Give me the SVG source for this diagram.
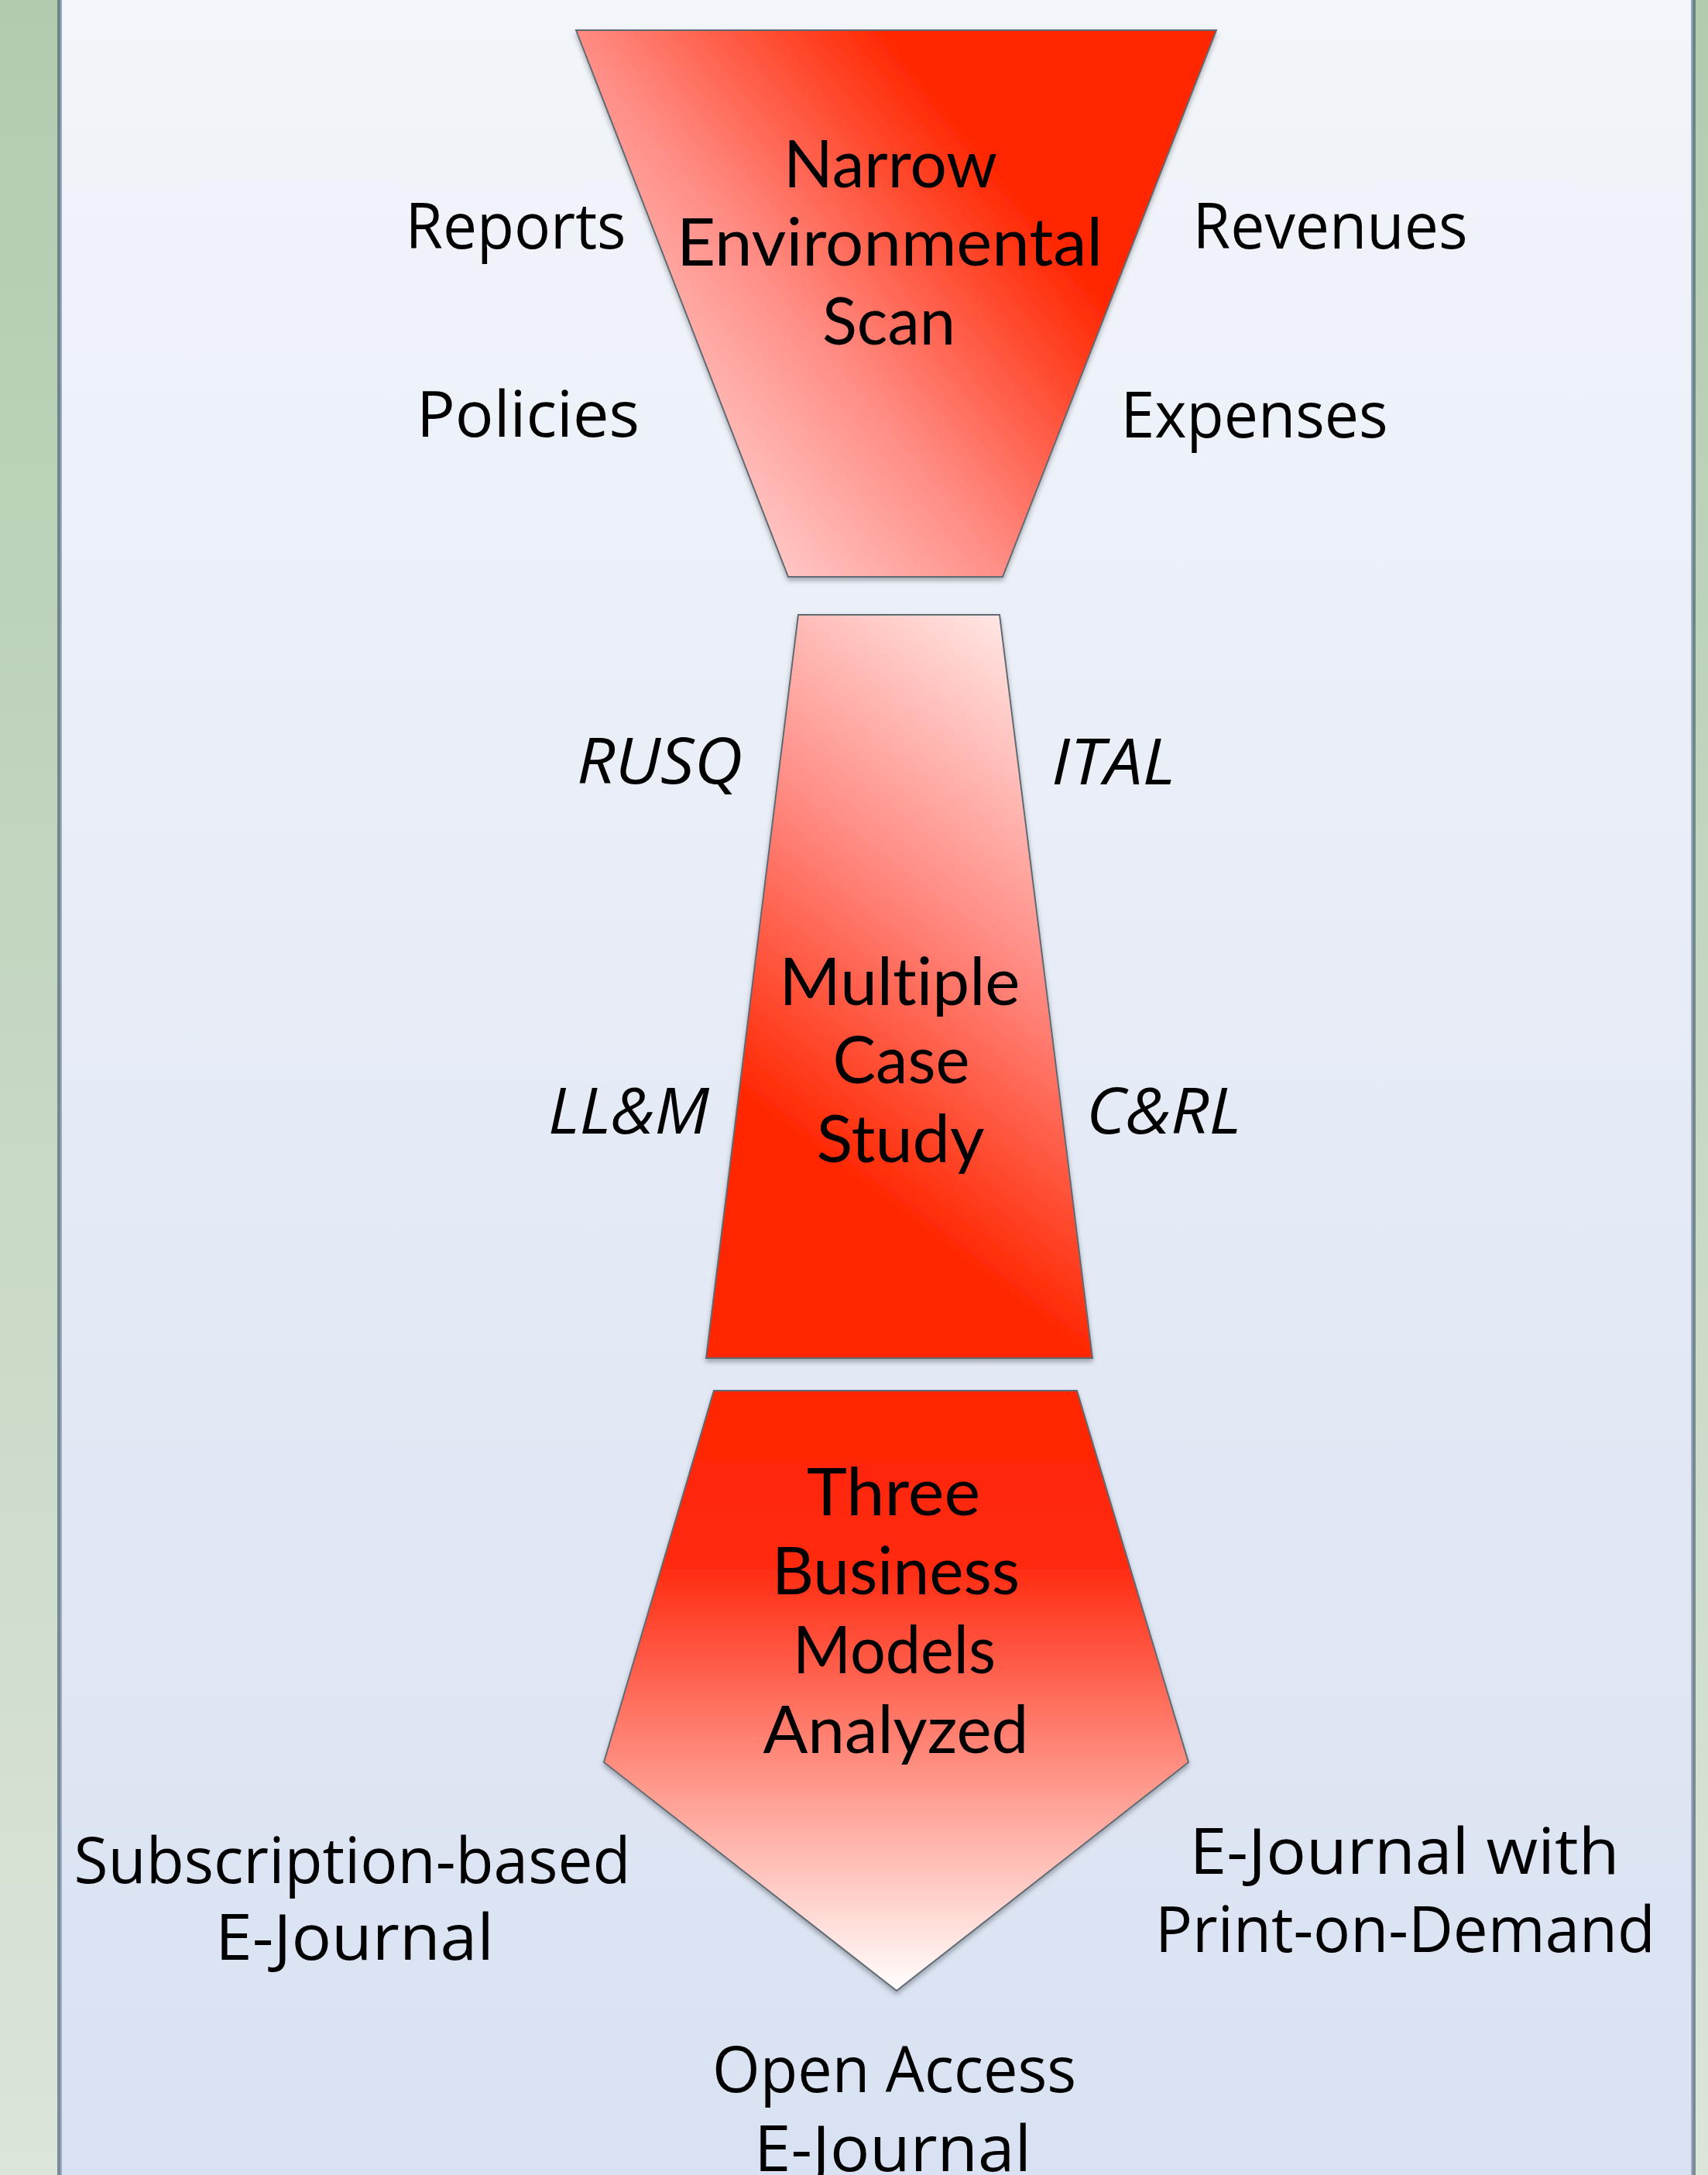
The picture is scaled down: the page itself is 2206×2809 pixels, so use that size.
<svg xmlns="http://www.w3.org/2000/svg" width="2206" height="2809" viewBox="0 0 2206 2809">
  <defs>
    <linearGradient id="bgGreen" x1="0" y1="0" x2="0" y2="1">
      <stop offset="0" stop-color="#b2cbaf"/>
      <stop offset="1" stop-color="#dbe5d8"/>
    </linearGradient>
    <linearGradient id="bgPanel" x1="0" y1="0" x2="0" y2="1">
      <stop offset="0" stop-color="#f2f5fa"/>
      <stop offset="1" stop-color="#d9e2f2"/>
    </linearGradient>
    <linearGradient id="bgEdge" x1="0" y1="0" x2="0" y2="1">
      <stop offset="0" stop-color="#6a8585"/>
      <stop offset="1" stop-color="#7a8b98"/>
    </linearGradient>
    <linearGradient id="gFunnel" gradientUnits="userSpaceOnUse" x1="1147" y1="39" x2="722" y2="382">
      <stop offset="0" stop-color="#ff2600"/>
      <stop offset="0.58" stop-color="#ff8c84"/>
      <stop offset="1" stop-color="#ffc6c4"/>
    </linearGradient>
    <linearGradient id="gTrap" gradientUnits="userSpaceOnUse" x1="956" y1="1418" x2="1376" y2="858">
      <stop offset="0" stop-color="#ff2600"/>
      <stop offset="0.5" stop-color="#ff8a82"/>
      <stop offset="1" stop-color="#ffe6e4"/>
    </linearGradient>
    <linearGradient id="gPent" gradientUnits="userSpaceOnUse" x1="0" y1="1796" x2="0" y2="2571">
      <stop offset="0" stop-color="#ff2600"/>
      <stop offset="0.29" stop-color="#ff2a10"/>
      <stop offset="1" stop-color="#ffffff"/>
    </linearGradient>
    <filter id="shadow" x="-10%" y="-10%" width="120%" height="120%">
      <feDropShadow dx="0" dy="4" stdDeviation="3" flood-color="#000000" flood-opacity="0.3"/>
    </filter>
  </defs>
  <style>
    .shape { stroke: #5f6b73; stroke-width: 2; filter: url(#shadow); }
    .inner { font-family: Lato, "Open Sans", "Liberation Sans", sans-serif; font-size: 85px; fill: #000000; text-anchor: middle; font-variant-ligatures: none; }
    .outer { font-family: "Open Sans", "Noto Sans", "Liberation Sans", sans-serif; font-size: 83px; fill: #000000; text-anchor: middle; font-variant-ligatures: none; }
    .ital { font-style: italic; }
  </style>

  <g id="background">
    <rect x="0" y="0" width="2206" height="2809" fill="url(#bgGreen)"/>
    <rect x="74" y="0" width="2116" height="2809" fill="url(#bgEdge)"/>
    <rect x="78" y="0" width="2108" height="2809" fill="#9daac2"/>
    <rect x="80" y="0" width="2104" height="2809" fill="url(#bgPanel)"/>
  </g>

  <g id="connectors"></g>

  <g id="node-environmental-scan">
    <polygon class="shape" points="744,39 1571,39 1295,745 1018,745" fill="url(#gFunnel)"/>
    <text class="inner"><tspan x="1150" y="242" textLength="276" lengthAdjust="spacingAndGlyphs">Narrow</tspan><tspan x="1149" y="343" textLength="550" lengthAdjust="spacingAndGlyphs">Environmental</tspan><tspan x="1148" y="445" textLength="172" lengthAdjust="spacingAndGlyphs">Scan</tspan></text>
  </g>
  <g id="label-reports"><text class="outer" x="666" y="321" textLength="285" lengthAdjust="spacingAndGlyphs">Reports</text></g>
  <g id="label-policies"><text class="outer" x="682" y="564" textLength="288" lengthAdjust="spacingAndGlyphs">Policies</text></g>
  <g id="label-revenues"><text class="outer" x="1718" y="321" textLength="355" lengthAdjust="spacingAndGlyphs">Revenues</text></g>
  <g id="label-expenses"><text class="outer" x="1620" y="565" textLength="345" lengthAdjust="spacingAndGlyphs">Expenses</text></g>

  <g id="node-case-study">
    <polygon class="shape" points="1031,794 1291,794 1411,1754 912,1754" fill="url(#gTrap)"/>
    <text class="inner"><tspan x="1162" y="1298" textLength="311" lengthAdjust="spacingAndGlyphs">Multiple</tspan><tspan x="1164" y="1399" textLength="177" lengthAdjust="spacingAndGlyphs">Case</tspan><tspan x="1163" y="1501" textLength="217" lengthAdjust="spacingAndGlyphs">Study</tspan></text>
  </g>
  <g id="label-rusq"><text class="outer ital" x="852" y="1012" textLength="214" lengthAdjust="spacingAndGlyphs">RUSQ</text></g>
  <g id="label-ital"><text class="outer ital" x="1438" y="1013" textLength="160" lengthAdjust="spacingAndGlyphs">ITAL</text></g>
  <g id="label-llm"><text class="outer ital" x="812" y="1464" textLength="208" lengthAdjust="spacingAndGlyphs">LL&amp;M</text></g>
  <g id="label-crl"><text class="outer ital" x="1503" y="1464" textLength="200" lengthAdjust="spacingAndGlyphs">C&amp;RL</text></g>

  <g id="node-business-models">
    <polygon class="shape" points="922,1796 1391,1796 1535,2276 1158,2571 780,2276" fill="url(#gPent)"/>
    <text class="inner"><tspan x="1154" y="1957" textLength="224" lengthAdjust="spacingAndGlyphs">Three</tspan><tspan x="1157" y="2059" textLength="320" lengthAdjust="spacingAndGlyphs">Business</tspan><tspan x="1155" y="2161" textLength="262" lengthAdjust="spacingAndGlyphs">Models</tspan><tspan x="1157" y="2264" textLength="343" lengthAdjust="spacingAndGlyphs">Analyzed</tspan></text>
  </g>
  <g id="label-subscription">
    <text class="outer"><tspan x="455" y="2432" textLength="719" lengthAdjust="spacingAndGlyphs">Subscription-based</tspan><tspan x="458" y="2531" textLength="360" lengthAdjust="spacingAndGlyphs">E-Journal</tspan></text>
  </g>
  <g id="label-print-on-demand">
    <text class="outer"><tspan x="1814" y="2420" textLength="555" lengthAdjust="spacingAndGlyphs">E-Journal with</tspan><tspan x="1815" y="2521" textLength="646" lengthAdjust="spacingAndGlyphs">Print-on-Demand</tspan></text>
  </g>
  <g id="label-open-access">
    <text class="outer"><tspan x="1155" y="2702" textLength="470" lengthAdjust="spacingAndGlyphs">Open Access</tspan><tspan x="1153" y="2804" textLength="358" lengthAdjust="spacingAndGlyphs">E-Journal</tspan></text>
  </g>
</svg>
